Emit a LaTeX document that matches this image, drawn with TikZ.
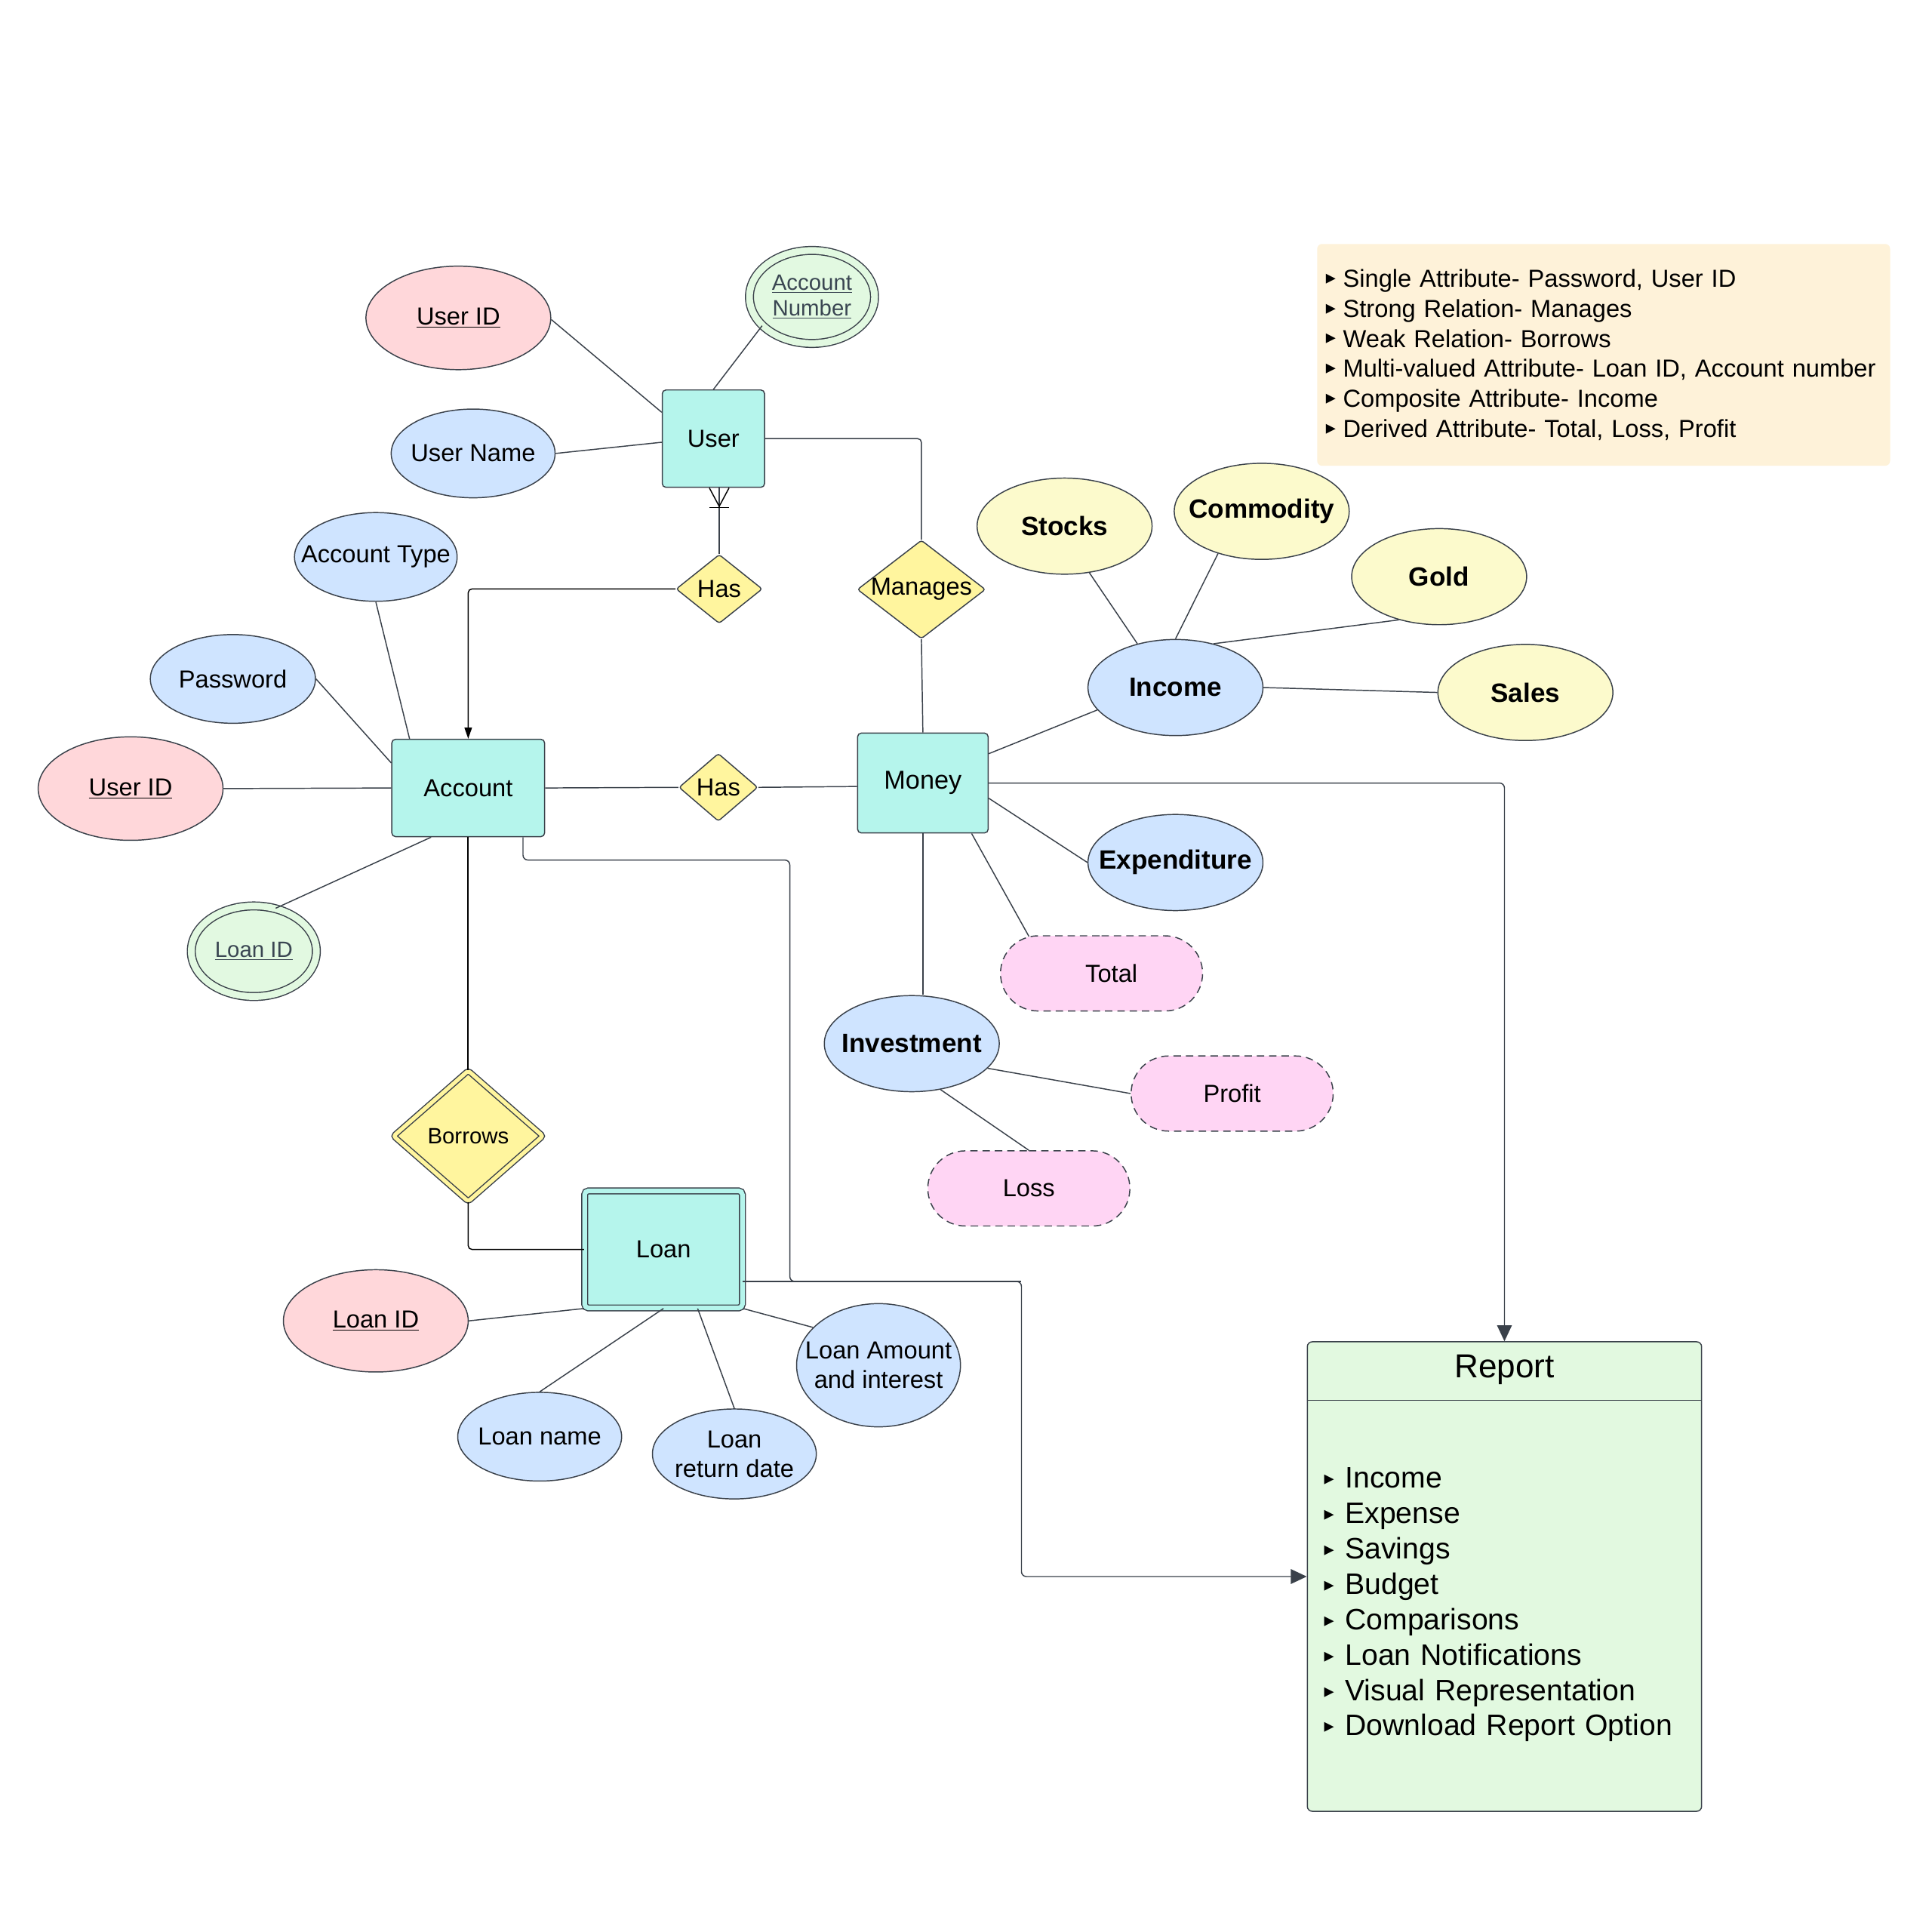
\documentclass[tikz,border=0pt]{standalone}
\usepackage{fontspec}
\setmainfont{Liberation Sans}
\newfontfamily\symfont{DejaVu Sans}
\usetikzlibrary{shapes.geometric,shapes.misc,arrows.meta}

\definecolor{entfill}{HTML}{B5F5EC}
\definecolor{relfill}{HTML}{FFF59E}
\definecolor{keyfill}{HTML}{FFD7DA}
\definecolor{attfill}{HTML}{CFE4FF}
\definecolor{multfill}{HTML}{E2F9E1}
\definecolor{compfill}{HTML}{FCFACC}
\definecolor{dervfill}{HTML}{FFD5F4}
\definecolor{notefill}{HTML}{FEF2D9}
\definecolor{repfill}{HTML}{E2F9E0}
\definecolor{linegray}{HTML}{3A414A}
\definecolor{textgray}{HTML}{3A4652}

\newcommand{\bul}[1][14pt]{\makebox[#1][l]{\raisebox{2.5pt}{\symfont\fontsize{16}{16}\selectfont ▸}}}

\begin{document}
\begin{tikzpicture}[x=1pt,y=-1pt,font=\fontsize{20}{24}\selectfont,
    link/.style={draw=linegray,line width=0.9pt},
    tip/.style={-{Triangle[length=13pt,width=12pt]}}]

      \useasboundingbox[fill=white] (0,0) rectangle (1568,1568);

      % Entities
      \begin{scope}[every node/.style={rectangle,rounded corners=3pt,draw=linegray,fill=entfill,line width=0.9pt,inner sep=0}]
        \node[minimum width=83,minimum height=79] (user) at (579,356) {User};
        \node[minimum width=124,minimum height=79] (account) at (380,639.5) {Account};
        \node[minimum width=106,minimum height=81,font=\fontsize{21}{24}\selectfont] (money) at (749,635.5) {Money};
        \node[minimum width=128,minimum height=95,double=entfill,double distance=3.8pt] (loan) at (538.5,1014) {Loan};
      \end{scope}

      % Relationships
      \begin{scope}[every node/.style={diamond,rounded corners=2pt,draw=linegray,fill=relfill,line width=0.9pt,
                    inner xsep=-20pt,inner ysep=-4pt}]
        \node[minimum width=70,minimum height=56] (hastop) at (583.7,478) {Has};
        \node[minimum width=104,minimum height=80] (manages) at (747.8,478.4) {Manages};
        \node[minimum width=64,minimum height=55] (hasmid) at (583,639) {Has};
        \node[minimum width=121.6,minimum height=106.4,double=relfill,double distance=3.2pt,font=\fontsize{18}{20}\selectfont] (borrows) at (380,922) {Borrows};
      \end{scope}

      % Attributes
      \begin{scope}[every node/.style={ellipse,draw=linegray,line width=0.9pt,inner xsep=-25pt,inner ysep=-8pt,align=center}]
        \node[fill=keyfill,minimum width=150,minimum height=84] (uidtop) at (372,258) {\underline{User ID}};
        \node[fill=keyfill,minimum width=150,minimum height=84] (uidleft) at (106,640) {\underline{User ID}};
        \node[fill=keyfill,minimum width=150,minimum height=83] (loanidp) at (305,1072) {\underline{Loan ID}};

        \node[fill=attfill,minimum width=133,minimum height=72] (uname) at (384,368) {User Name};
        \node[fill=attfill,minimum width=132,minimum height=72] (acctype) at (305,452) {Account Type};
        \node[fill=attfill,minimum width=134,minimum height=72] (pwd) at (189,551) {Password};
        \node[fill=attfill,minimum width=133,minimum height=72] (loanname) at (438,1166) {Loan name};
        \node[fill=attfill,minimum width=133,minimum height=73] (loanret) at (596,1180) {Loan\\return date};
        \node[fill=attfill,minimum width=133,minimum height=100] (loanamt) at (713,1108) {Loan Amount\\and interest};

        \node[fill=multfill,double=multfill,double distance=5.5pt,minimum width=101.5,minimum height=75.5,
              text=textgray,font=\fontsize{18}{21}\selectfont] (accno) at (659,241) {\underline{Account}\\\underline{Number}};
        \node[fill=multfill,double=multfill,double distance=5.5pt,minimum width=101.5,minimum height=73.5,
              text=textgray,font=\fontsize{18}{21}\selectfont] (loanidg) at (206,772) {\underline{Loan ID}};
      \end{scope}

      % Composite attributes
      \begin{scope}[every node/.style={ellipse,draw=linegray,line width=0.9pt,inner xsep=-25pt,inner ysep=-8pt,
                    minimum width=142,minimum height=78,font=\bfseries\fontsize{21.5}{24}\selectfont}]
        \node[fill=compfill] (stocks) at (864,427) {Stocks};
        \node[fill=compfill] (commodity) at (1024,415) {Commodity};
        \node[fill=compfill] (gold) at (1168,468) {Gold};
        \node[fill=compfill] (sales) at (1238,562) {Sales};
        \node[fill=attfill] (income) at (954,558) {Income};
        \node[fill=attfill] (expenditure) at (954,700) {Expenditure};
        \node[fill=attfill] (investment) at (740,847) {Investment};
      \end{scope}

      % Derived attributes
      \begin{scope}[every node/.style={rounded rectangle,draw=linegray,dash pattern=on 6pt off 4pt,line width=0.9pt,
                    fill=dervfill,inner sep=0,minimum width=164,minimum height=61}]
        \node (total) at (894,790) {\hspace*{16pt}Total};
        \node (profit) at (1000,887.5) {Profit};
        \node (loss) at (835,964.5) {Loss};
      \end{scope}

      % Notes
      \node[fill=notefill,rounded corners=4pt,minimum width=465,minimum height=180,text width=451,inner xsep=7pt,
            align=left,font=\fontsize{20}{24.4}\selectfont] (legend) at (1301.5,288)
        {\bul Single Attribute- Password, User ID\\
         \bul Strong Relation- Manages\\
         \bul Weak Relation- Borrows\\
         \bul Multi-valued Attribute- Loan ID, Account number\\
         \bul Composite Attribute- Income\\
         \bul Derived Attribute- Total, Loss, Profit};

      \node[draw=linegray,fill=repfill,rounded corners=4pt,line width=0.9pt,minimum width=320,minimum height=381] (report) at (1221,1279.5) {};
      \node[anchor=north,inner sep=0,font=\fontsize{27}{30}\selectfont] (reporttitle) at ([yshift=-11pt]report.north) {Report};
      \draw[link] ([yshift=-48pt]report.north west) -- ([yshift=-48pt]report.north east);
      \node[anchor=west,inner sep=0,text width=300,align=left,font=\fontsize{24}{28.7}\selectfont] (reportlist)
        at ([xshift=14pt,yshift=-23pt]report.west)
        {\bul[17pt]Income\\
         \bul[17pt]Expense\\
         \bul[17pt]Savings\\
         \bul[17pt]Budget\\
         \bul[17pt]Comparisons\\
         \bul[17pt]Loan Notifications\\
         \bul[17pt]Visual Representation\\
         \bul[17pt]Download Report Option};

      % Edges
      \begin{scope}[every edge/.style={draw=linegray,line width=0.9pt}]
        \path (uidtop.-1) edge (user.153);
        \path (accno.210) edge (user.north);
        \path (uname.east) edge (user.184);
        \path (acctype.south) edge (account.140);
        \path (pwd.east) edge (account.162);
        \path (uidleft.east) edge (account.west);
        \path (loanidg.63) edge (account.233);
        \path (account.east) edge (hasmid.west);
        \path (hasmid.east) edge (money.183);
        \path (manages.south) edge (money.north);

        \path (income.196) edge (money.24);
        \path (stocks.-62) edge (income.131);
        \path (commodity.224) edge (income.north);
        \path (gold.227) edge (income.49);
        \path (sales.west) edge (income.east);
        \path (expenditure.west) edge (money.-13);
        \path (total.153) edge (money.-46);
        \path (money.south) edge (money.south |- investment.north);
        \path (investment.-18) edge (profit.west);
        \path (investment.-58) edge (loss.north);

        \path (loanidp.east) edge (loan.south west);
        \path (loanname.north) edge (loan.south);
        \path (loanret.north) edge (loan.-60);
        \path (loanamt.150) edge (loan.south east);
      \end{scope}

      % User -- Has, one or many
      \coordinate (foot) at (hastop.north |- user.south);
      \draw[link] (hastop.north) -- (foot);
      \draw[black,line width=0.9pt] ([xshift=-8pt]foot) -- ([yshift=-15pt]foot) -- ([xshift=8pt]foot);
      \draw[black,line width=0.9pt] ([xshift=-8pt,yshift=-16pt]foot) -- ([xshift=8pt,yshift=-16pt]foot);

      \draw[link,rounded corners=3pt] (user.east) -| (manages.north);
      \draw[black,line width=0.9pt,rounded corners=3pt,-{Triangle[length=9pt,width=6pt]}] (hastop.west) -| (account.north);
      \draw[black,line width=1.2pt] (account.south) -- (borrows.north);
      \draw[black,line width=0.9pt,rounded corners=3pt] (borrows.south) |- (loan.west);

      % Links to the report
      \coordinate (bend) at (829,1040);
      \draw[link,tip,rounded corners=4pt] (money.east) -| (report.north);
      \draw[link,tip,rounded corners=4pt] ([xshift=-18pt]account.south east) |- (641,698) |- (bend) |- (report.west);
      \draw[link] ([yshift=-26pt]loan.east) -- (bend);

    \end{tikzpicture}
\end{document}
